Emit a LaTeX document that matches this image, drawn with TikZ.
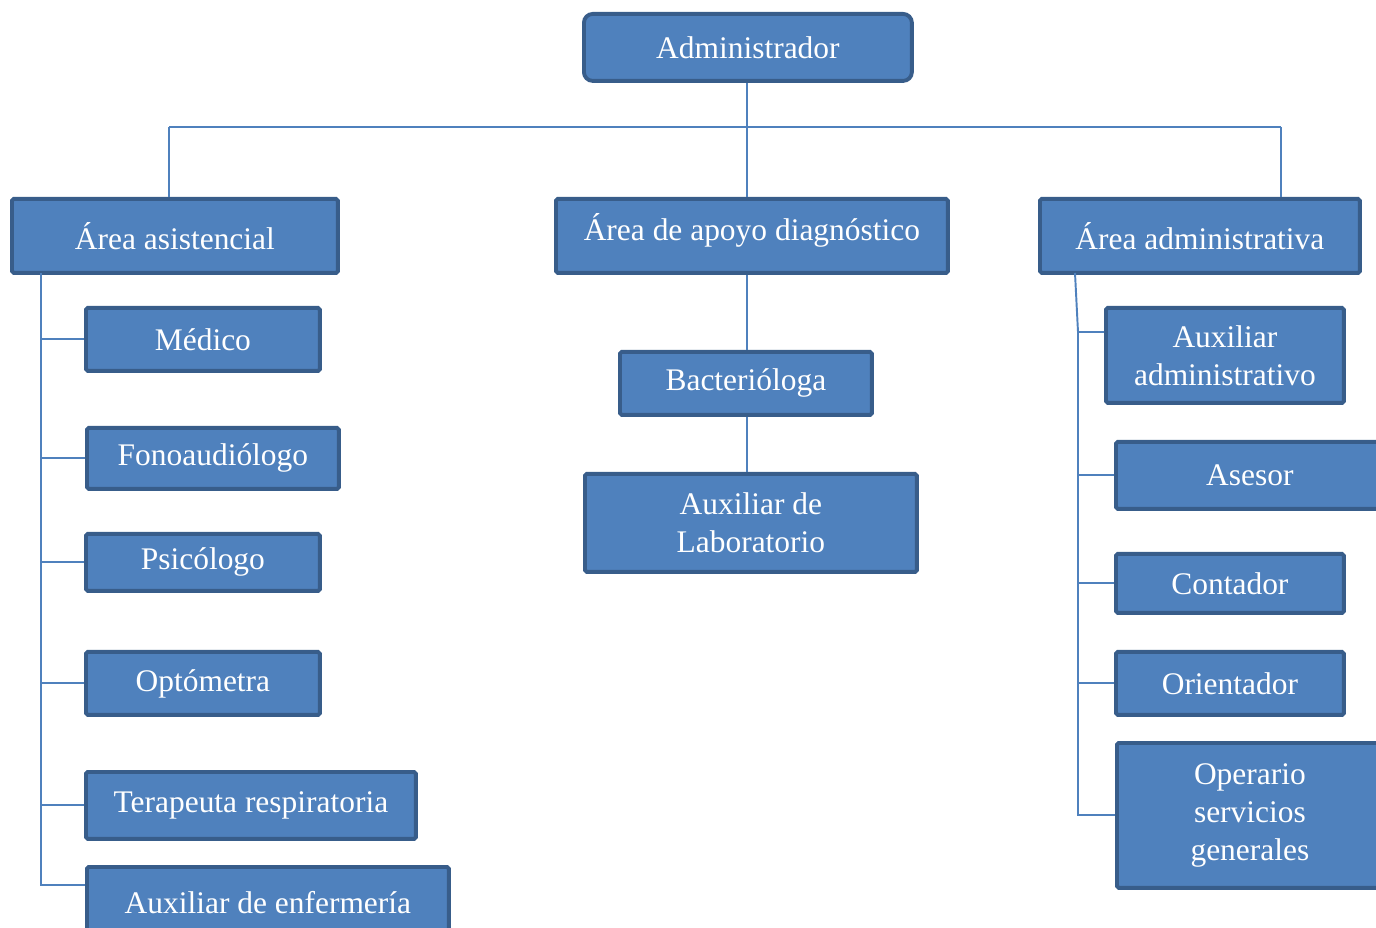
\documentclass[tikz,border=0pt]{standalone}
\usepackage{fontspec}
\setmainfont{Liberation Serif}
\usepackage{tikz}
\usetikzlibrary{positioning}
\definecolor{unitfill}{HTML}{4F81BD}
\definecolor{unitedge}{HTML}{385D8A}
\tikzset{
  every node/.style={
    font=\fontsize{17.9}{21.5}\selectfont
  },
  unit/.style={
    shape=rectangle,
    anchor=north west,
    inner sep=0pt,
    align=center,
    draw=unitedge,
    line width=2.2pt,
    rounded corners=1pt,
    fill=unitfill,
    text=white
  },
  chief/.style={
    unit,
    rounded corners=5pt
  },
  link/.style={
    draw=unitfill,
    line width=1.1pt
  }
}
\begin{document}
\begin{tikzpicture}[x=0.02cm,y=-0.02cm]
\clip (0,0) rectangle (1376,928);

% top level
\node [chief, minimum width=6.56cm, minimum height=1.34cm] (admin) at (582,12) {Administrador};
\node [unit, minimum width=6.52cm, minimum height=1.48cm] (asist) at (10,197) {Área asistencial};
\node [unit, minimum width=7.84cm, minimum height=1.48cm, text depth=0.36cm] (apoyo) at (554,197) {Área de apoyo diagnóstico};
\node [unit, minimum width=6.40cm, minimum height=1.48cm] (admva) at (1038,197) {Área administrativa};

% area asistencial
\node [unit, minimum width=4.68cm, minimum height=1.26cm] (medico) at (84,306) {Médico};
\node [unit, minimum width=5.04cm, minimum height=1.22cm] (fono) at (85,426) {Fonoaudiólogo};
\node [unit, minimum width=4.68cm, minimum height=1.14cm] (psico) at (84,532) {Psicólogo};
\node [unit, minimum width=4.68cm, minimum height=1.26cm] (opto) at (84,650) {Optómetra};
\node [unit, minimum width=6.60cm, minimum height=1.34cm] (terap) at (84,770) {Terapeuta respiratoria};
\node [unit, minimum width=7.24cm, minimum height=1.44cm] (auxenf) at (85,865) {Auxiliar de enfermería};

% area de apoyo diagnostico
\node [unit, minimum width=5.04cm, minimum height=1.26cm] (bact) at (618,350) {Bacterióloga};
\node [unit, minimum width=6.64cm, minimum height=1.96cm] (auxlab) at (583,472) {Auxiliar de\\Laboratorio};

% area administrativa
\node [unit, minimum width=4.76cm, minimum height=1.90cm] (auxadm) at (1104,306) {Auxiliar\\administrativo};
\node [unit, minimum width=5.36cm, minimum height=1.34cm] (asesor) at (1114,440) {Asesor};
\node [unit, minimum width=4.56cm, minimum height=1.18cm] (contador) at (1114,552) {Contador};
\node [unit, minimum width=4.56cm, minimum height=1.26cm] (orient) at (1114,650) {Orientador};
\node [unit, minimum width=5.32cm, minimum height=2.90cm] (operario) at (1115,741) {Operario\\servicios\\generales};

% connectors
\coordinate (bus) at (747,127);
\coordinate (lspine) at (41,273);
\coordinate (rtop) at (1075,273);
\coordinate (rspine) at (1078,332);

\draw [link] (bus |- admin.south) -- (bus |- apoyo.north);
\draw [link] (bus -| 169,0) -- (bus -| 1281,0);
\draw [link] (bus -| 169,0) -- (asist.north -| 169,0);
\draw [link] (bus -| 1281,0) -- (admva.north -| 1281,0);

\foreach \n in {medico,fono,psico,opto,terap}
  \draw [link] (lspine) |- (\n.west);
\draw [link] (lspine) |- ([yshift=-0.4cm]auxenf.north west);

\draw [link] (bus |- apoyo.south) -- (bus |- bact.north);
\draw [link] (bus |- bact.south) -- (bus |- auxlab.north);

\draw [link] (rtop) -- (rspine) -- (rspine -| auxadm.west);
\foreach \n in {asesor,contador,orient,operario}
  \draw [link] (rspine) |- (\n.west);

\end{tikzpicture}
\end{document}
